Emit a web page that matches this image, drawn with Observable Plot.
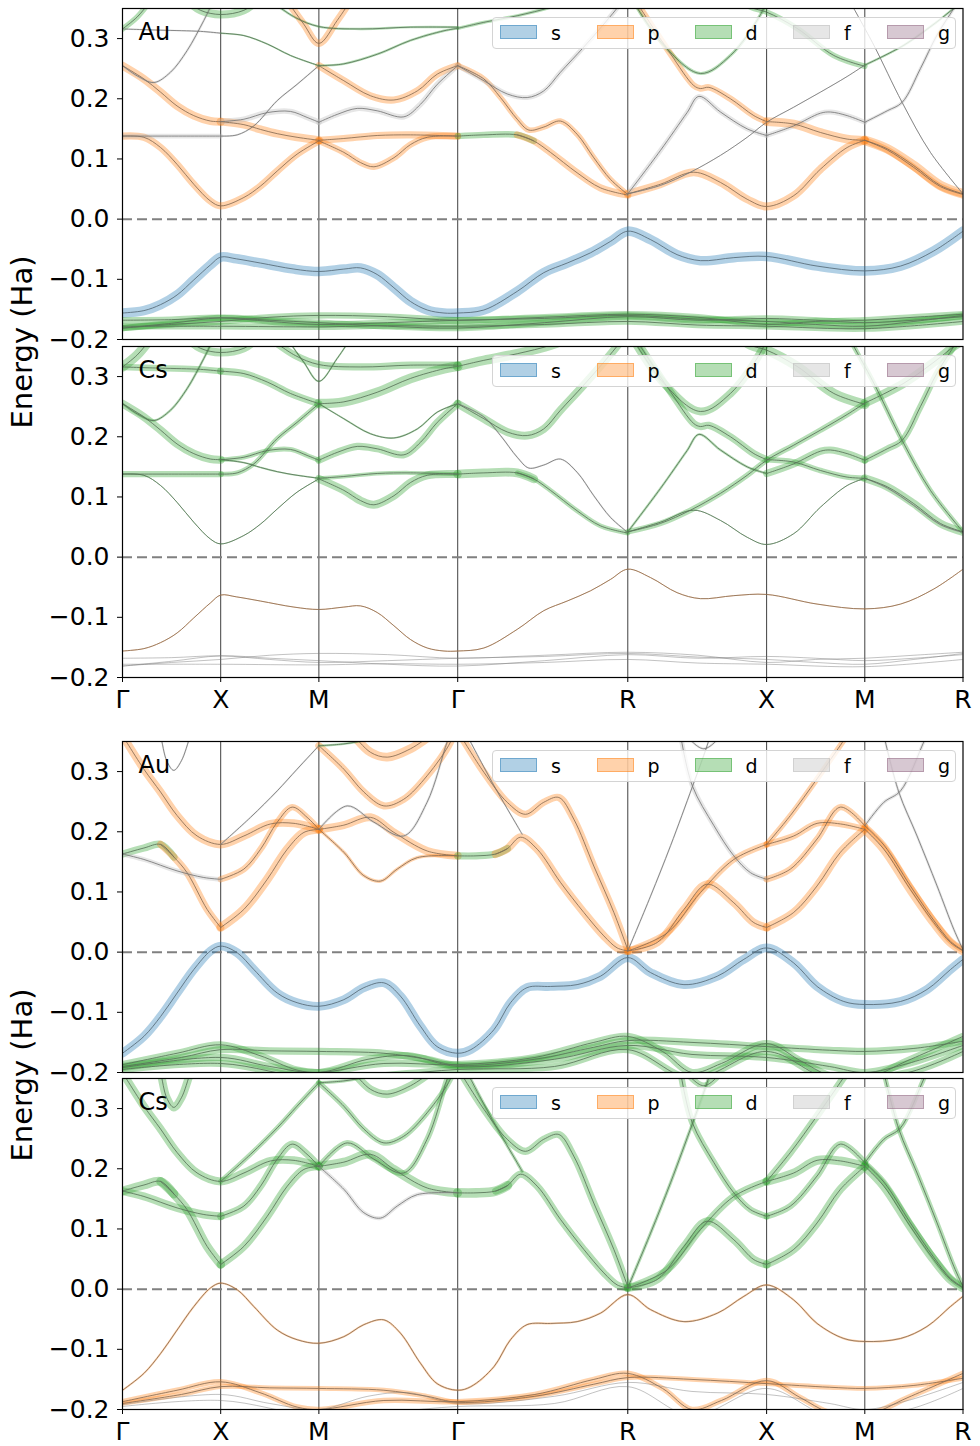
<!DOCTYPE html>
<html><head><meta charset="utf-8">
<script src="https://cdn.jsdelivr.net/npm/d3@7"></script>
<script src="https://cdn.jsdelivr.net/npm/@observablehq/plot@0.6"></script>
<style>
body{margin:0;background:#fff;font-family:"DejaVu Sans",sans-serif;}
#wrap{position:relative;width:980px;height:1446px;overflow:hidden;background:#fff;}
.panel{position:absolute;left:0;}
.ylab{position:absolute;width:300px;text-align:center;font-size:29px;line-height:34px;transform:rotate(-90deg);white-space:nowrap;color:#000;}
.legend{position:absolute;left:492px;width:462px;height:30px;border:1px solid #d4d4d4;border-radius:4px;background:rgba(255,255,255,0.8);}
.entry{position:absolute;top:0;height:30px;}
.patch{position:absolute;top:7px;left:0;width:35px;height:12px;}
.ltxt{position:absolute;left:51px;top:0;font-size:19px;line-height:30px;color:#000;}
</style></head>
<body><div id="wrap"></div>
<script>
// ---------- axis data ----------
const G0=0, X1=0.5, M1=1.0, G1=1.707, R1=2.573, X2=3.28, M2=3.78, R2=4.28;
const kTicks=[G0,X1,M1,G1,R1,X2,M2,R2];
const kLabels=["Γ","X","M","Γ","R","X","M","R"];
const yTicks=[-0.2,-0.1,0,0.1,0.2,0.3];
const yDomain=[-0.2,0.35];
const orbitals=["s","p","d","f","g"];
const orbColors=["#1f77b4","#ff7f0e","#2ca02c","#b8b8b8","#8d627e"];

// ---------- structure A (top figure) ----------
const A_s=[[0,-0.156],[0.109,-0.152],[0.194,-0.142],[0.278,-0.126],[0.363,-0.101],[0.448,-0.076],[0.5,-0.063],[0.58,-0.066],[0.703,-0.073],[0.873,-0.083],[1.0,-0.087],[1.127,-0.083],[1.212,-0.081],[1.297,-0.092],[1.382,-0.114],[1.467,-0.137],[1.552,-0.151],[1.637,-0.156],[1.707,-0.156],[1.84,-0.151],[2.01,-0.12],[2.145,-0.089],[2.264,-0.073],[2.383,-0.056],[2.485,-0.037],[2.573,-0.02],[2.689,-0.034],[2.824,-0.059],[2.943,-0.069],[3.113,-0.064],[3.28,-0.062],[3.537,-0.078],[3.78,-0.086],[3.962,-0.078],[4.131,-0.053],[4.28,-0.02]];
const A_d1=[[0,-0.168],[0.25,-0.167],[0.5,-0.164],[0.75,-0.17],[1.0,-0.175],[1.35,-0.172],[1.707,-0.168],[2.15,-0.165],[2.573,-0.16],[2.93,-0.166],[3.28,-0.17],[3.53,-0.175],[3.78,-0.178],[4.03,-0.17],[4.28,-0.16]];
const A_d2=[[0,-0.181],[0.25,-0.173],[0.5,-0.164],[0.75,-0.168],[1.0,-0.172],[1.35,-0.178],[1.707,-0.181],[2.15,-0.172],[2.573,-0.162],[2.93,-0.168],[3.28,-0.165],[3.53,-0.168],[3.78,-0.172],[4.03,-0.168],[4.28,-0.162]];
const A_d3=[[0,-0.178],[0.5,-0.178],[1.0,-0.179],[1.35,-0.177],[1.707,-0.178],[2.15,-0.175],[2.573,-0.17],[2.93,-0.176],[3.28,-0.178],[3.78,-0.182],[4.28,-0.17]];
const A_d4=[[0,-0.181],[0.25,-0.175],[0.5,-0.17],[0.75,-0.163],[1.0,-0.16],[1.35,-0.162],[1.707,-0.168],[2.15,-0.163],[2.573,-0.158],[2.93,-0.163],[3.28,-0.175],[3.53,-0.17],[3.78,-0.168],[4.03,-0.163],[4.28,-0.158]];
const A_c1a=[[0,0.138],[0.109,0.136],[0.194,0.119],[0.278,0.091],[0.363,0.058],[0.448,0.03],[0.5,0.022],[0.618,0.036],[0.703,0.055],[0.788,0.08],[0.889,0.108],[1.0,0.13]];
const A_c1b=[[1.0,0.13],[1.127,0.111],[1.212,0.094],[1.28,0.087],[1.382,0.102],[1.467,0.124],[1.552,0.136],[1.707,0.138]];
const A_c2a=[[0,0.138],[0.25,0.138],[0.5,0.138]];
const A_c2b=[[0.5,0.138],[0.584,0.14],[0.669,0.155],[0.788,0.197],[0.889,0.224],[1.0,0.255]];
const A_c2c=[[1.0,0.255],[1.127,0.23],[1.263,0.205],[1.382,0.198],[1.501,0.213],[1.603,0.241],[1.707,0.255]];
const A_c3a=[[0,0.255],[0.109,0.233],[0.194,0.211],[0.278,0.188],[0.363,0.172],[0.448,0.163],[0.5,0.162]];
const A_c3b=[[0.5,0.162],[0.618,0.157],[0.703,0.149],[0.788,0.142],[0.889,0.136],[1.0,0.131]];
const A_c3c=[[1.0,0.131],[1.127,0.134],[1.297,0.139],[1.467,0.14],[1.707,0.138]];
const A_c4=[[0,0.255],[0.075,0.238],[0.16,0.227],[0.244,0.244],[0.329,0.28],[0.414,0.33],[0.465,0.363],[0.5,0.38]];
const A_c5a=[[0.5,0.162],[0.618,0.166],[0.737,0.177],[0.855,0.179],[0.94,0.169],[1.0,0.161]];
const A_c5b=[[1.0,0.161],[1.093,0.174],[1.195,0.184],[1.297,0.18],[1.433,0.17],[1.518,0.191],[1.603,0.224],[1.707,0.255]];
const A_c6a=[[0,0.316],[0.194,0.314],[0.397,0.312],[0.5,0.309]];
const A_c6b=[[0.5,0.309],[0.618,0.305],[0.737,0.291],[0.855,0.272],[1.0,0.255]];
const A_c6c=[[1.0,0.255],[1.127,0.258],[1.297,0.274],[1.467,0.297],[1.637,0.313],[1.707,0.317]];
const A_c7=[[0,0.316],[0.075,0.336],[0.143,0.363],[0.2,0.39]];
const A_c8=[[0.754,0.363],[0.88,0.335],[1.0,0.32],[1.212,0.316],[1.467,0.319],[1.707,0.319]];
const A_c9=[[0.838,0.363],[0.923,0.324],[1.0,0.292],[1.093,0.33],[1.161,0.363]];
const A_c10=[[0.329,0.363],[0.397,0.347],[0.5,0.34],[0.618,0.347],[0.686,0.363]];
const A_r1=[[1.707,0.255],[1.84,0.233],[1.925,0.202],[2.01,0.166],[2.069,0.148],[2.145,0.153],[2.23,0.163],[2.315,0.141],[2.4,0.102],[2.485,0.066],[2.573,0.041]];
const A_r2a=[[1.707,0.138],[1.84,0.14],[2.01,0.14],[2.094,0.13]];
const A_r2b=[[2.01,0.14],[2.094,0.13],[2.179,0.111],[2.315,0.077],[2.434,0.052],[2.573,0.04]];
const A_r3=[[1.707,0.255],[1.84,0.23],[1.959,0.208],[2.061,0.202],[2.145,0.213],[2.23,0.244],[2.349,0.286],[2.451,0.324],[2.536,0.358],[2.56,0.37]];
const A_r4=[[1.707,0.317],[1.84,0.327],[2.01,0.338],[2.179,0.352],[2.264,0.363]];
const A_r5=[[2.573,0.042],[2.739,0.058],[2.909,0.078],[3.045,0.061],[3.181,0.033],[3.28,0.021],[3.418,0.039],[3.554,0.083],[3.69,0.119],[3.78,0.131]];
const A_r5b=[[3.78,0.131],[3.894,0.115],[4.029,0.086],[4.165,0.054],[4.28,0.041]];
const A_r6a=[[2.573,0.042],[2.739,0.056],[2.892,0.078],[3.045,0.106],[3.181,0.136],[3.28,0.161],[3.418,0.186],[3.554,0.211],[3.69,0.237],[3.78,0.256]];
const A_r6b=[[3.78,0.256],[3.979,0.289],[4.148,0.328],[4.233,0.35],[4.28,0.36]];
const A_r7a=[[2.573,0.042],[2.739,0.114],[2.875,0.177],[2.935,0.204],[3.045,0.178],[3.181,0.15],[3.28,0.139]];
const A_r7b=[[3.28,0.139],[3.418,0.155],[3.554,0.176],[3.605,0.178],[3.69,0.172],[3.78,0.161]];
const A_r7c=[[3.78,0.161],[3.894,0.18],[3.97,0.194],[4.063,0.25],[4.148,0.306],[4.233,0.35],[4.28,0.375]];
const A_r8a=[[2.638,0.35],[2.79,0.275],[2.909,0.222],[2.943,0.217],[2.986,0.219],[3.096,0.2],[3.215,0.172],[3.28,0.162]];
const A_r8b=[[3.28,0.162],[3.418,0.158],[3.554,0.144],[3.69,0.133],[3.78,0.131]];
const A_r8c=[[3.78,0.131],[3.894,0.117],[4.029,0.089],[4.165,0.056],[4.28,0.042]];
const A_r9=[[2.604,0.36],[2.756,0.289],[2.943,0.242],[3.096,0.272],[3.249,0.34],[3.29,0.37]];
const A_r10=[[3.1,0.375],[3.2,0.352],[3.28,0.344],[3.435,0.317],[3.622,0.272],[3.78,0.254]];
const A_r11=[[3.724,0.35],[3.826,0.289],[3.97,0.194],[4.114,0.111],[4.28,0.042]];

// [points, Au orbital, Au weight, Cs orbital, Cs weight]
const bandsA=[
 [A_s,"s",0.6,"p",0.06],
 [A_d1,"d",0.4,"f",0.03],[A_d2,"d",0.4,"f",0.03],[A_d3,"d",0.4,"f",0.03],[A_d4,"d",0.4,"f",0.03],
 [A_c1a,"p",0.45,"d",0.06],[A_c1b,"p",0.4,"d",0.5],
 [A_c2a,"f",0.3,"d",0.4],[A_c2b,"f",0.1,"d",0.3],[A_c2c,"p",0.45,"d",0.1],
 [A_c3a,"p",0.5,"d",0.5],[A_c3b,"p",0.5,"d",0.1],[A_c3c,"p",0.45,"d",0.25],
 [A_c4,"f",0.15,"d",0.15],
 [A_c5a,"f",0.35,"d",0.3],[A_c5b,"f",0.35,"d",0.45],
 [A_c6a,"f",0.1,"d",0.4],[A_c6b,"d",0.1,"d",0.45],[A_c6c,"d",0.15,"d",0.6],
 [A_c7,"d",0.35,"d",0.6],[A_c8,"d",0.15,"d",0.45],[A_c9,"p",0.45,"d",0.1],[A_c10,"d",0.5,"d",0.5],
 [A_r1,"p",0.35,"f",0.1],[A_r2a,"d",0.4,"d",0.55],[A_r2b,"p",0.45,"d",0.3],
 [A_r3,"f",0.3,"d",0.5],[A_r4,"d",0.2,"d",0.6],
 [A_r5,"p",0.5,"d",0.05],[A_r5b,"p",0.4,"f",0.1],
 [A_r6a,"f",0.06,"d",0.35],[A_r6b,"d",0.15,"d",0.55],
 [A_r7a,"f",0.3,"d",0.15],[A_r7b,"f",0.3,"d",0.45],[A_r7c,"f",0.2,"d",0.4],
 [A_r8a,"p",0.4,"d",0.45],[A_r8b,"p",0.55,"d",0.35],[A_r8c,"p",0.6,"d",0.5],
 [A_r9,"d",0.2,"d",0.5],[A_r10,"d",0.35,"d",0.6],[A_r11,"f",0.06,"d",0.3]
];

// ---------- structure B (bottom figure) ----------
const B_s=[[0,-0.168],[0.109,-0.14],[0.194,-0.107],[0.278,-0.068],[0.363,-0.029],[0.448,0.002],[0.5,0.01],[0.584,-0.001],[0.669,-0.029],[0.788,-0.068],[0.889,-0.084],[1.0,-0.09],[1.127,-0.079],[1.229,-0.059],[1.331,-0.051],[1.415,-0.073],[1.517,-0.123],[1.602,-0.157],[1.707,-0.168],[1.774,-0.162],[1.891,-0.129],[1.976,-0.084],[2.06,-0.059],[2.179,-0.057],[2.315,-0.054],[2.434,-0.04],[2.573,-0.009],[2.689,-0.034],[2.859,-0.054],[3.029,-0.04],[3.164,-0.012],[3.28,0.007],[3.418,-0.018],[3.537,-0.057],[3.673,-0.082],[3.78,-0.087],[3.962,-0.082],[4.097,-0.062],[4.216,-0.029],[4.28,-0.012]];
const B_d1=[[0,-0.187],[0.278,-0.168],[0.5,-0.154],[0.7,-0.172],[0.889,-0.196],[1.0,-0.2],[1.331,-0.185],[1.707,-0.187],[2.1,-0.175],[2.4,-0.15],[2.573,-0.14],[2.75,-0.165],[2.9,-0.2],[3.05,-0.185],[3.28,-0.152],[3.45,-0.18],[3.6,-0.205],[3.78,-0.21],[4.0,-0.18],[4.28,-0.14]];
const B_d2=[[0,-0.19],[0.3,-0.175],[0.5,-0.162],[0.75,-0.164],[1.0,-0.165],[1.331,-0.168],[1.55,-0.178],[1.707,-0.188],[2.1,-0.178],[2.4,-0.158],[2.573,-0.147],[2.9,-0.15],[3.28,-0.157],[3.6,-0.163],[3.78,-0.165],[4.03,-0.16],[4.28,-0.148]];
const B_d3=[[0,-0.192],[0.5,-0.175],[0.75,-0.19],[1.0,-0.2],[1.25,-0.178],[1.45,-0.172],[1.707,-0.19],[2.2,-0.178],[2.573,-0.155],[2.9,-0.17],[3.28,-0.175],[3.6,-0.19],[3.78,-0.2],[4.0,-0.185],[4.28,-0.155]];
const B_d4=[[0,-0.195],[0.5,-0.185],[1.0,-0.21],[1.707,-0.195],[2.2,-0.19],[2.573,-0.162],[2.9,-0.21],[3.28,-0.165],[3.6,-0.21],[4.0,-0.2],[4.28,-0.165]];
const B_c1=[[0,0.36],[0.109,0.304],[0.194,0.266],[0.278,0.227],[0.38,0.193],[0.5,0.179],[0.618,0.193],[0.754,0.213],[0.873,0.214],[1.0,0.204]];
const B_c2=[[0.5,0.179],[0.652,0.224],[0.788,0.268],[0.889,0.304],[1.0,0.343]];
const B_c3=[[0.5,0.041],[0.618,0.071],[0.737,0.121],[0.839,0.171],[0.924,0.199],[1.0,0.204]];
const B_c4=[[0.5,0.121],[0.618,0.138],[0.703,0.171],[0.788,0.216],[0.864,0.241],[0.94,0.224],[1.0,0.204]];
const B_c5a=[[0,0.163],[0.109,0.173],[0.194,0.179],[0.262,0.158]];
const B_c5b=[[0.194,0.179],[0.262,0.158],[0.329,0.132],[0.431,0.071],[0.5,0.041]];
const B_c6=[[0,0.163],[0.109,0.154],[0.278,0.135],[0.414,0.124],[0.5,0.121]];
const B_c7=[[0.17,0.38],[0.193,0.36],[0.225,0.318],[0.261,0.302],[0.3,0.318],[0.346,0.36],[0.37,0.38]];
const B_m1=[[1.0,0.204],[1.127,0.211],[1.263,0.224],[1.382,0.199],[1.552,0.168],[1.707,0.16]];
const B_m2=[[1.0,0.204],[1.144,0.243],[1.28,0.216],[1.432,0.193],[1.551,0.249],[1.653,0.349],[1.68,0.37]];
const B_m3=[[1.0,0.204],[1.127,0.166],[1.229,0.127],[1.314,0.118],[1.399,0.138],[1.501,0.157],[1.707,0.16]];
const B_m4=[[1.0,0.343],[1.127,0.304],[1.229,0.266],[1.331,0.243],[1.432,0.254],[1.551,0.293],[1.67,0.349],[1.69,0.37]];
const B_m5=[[1.178,0.36],[1.263,0.332],[1.348,0.324],[1.467,0.338],[1.568,0.36]];
const B_m6=[[1.0,0.343],[1.127,0.346],[1.229,0.352],[1.35,0.365]];
const B_g1a=[[1.707,0.16],[1.8,0.16],[1.9,0.163],[1.96,0.172]];
const B_g1b=[[1.9,0.163],[1.96,0.172],[2.027,0.191],[2.112,0.171],[2.23,0.116],[2.349,0.066],[2.451,0.027],[2.519,0.007],[2.573,0.002]];
const B_g2=[[1.755,0.36],[1.891,0.277],[2.01,0.21],[2.035,0.196]];
const B_g3=[[1.721,0.36],[1.84,0.299],[1.959,0.249],[2.052,0.229],[2.145,0.249],[2.222,0.257],[2.298,0.221],[2.4,0.143],[2.502,0.066],[2.573,0.004]];
const B_g4=[[2.573,0.002],[2.689,0.093],[2.791,0.177],[2.901,0.274],[2.96,0.327],[2.994,0.36]];
const B_g5a=[[2.842,0.36],[2.901,0.277],[3.012,0.21],[3.113,0.16],[3.198,0.132],[3.28,0.121]];
const B_g5b=[[3.28,0.121],[3.401,0.138],[3.537,0.188],[3.656,0.241],[3.78,0.21]];
const B_g5c=[[3.78,0.21],[3.877,0.249],[3.962,0.268],[4.08,0.349],[4.11,0.37]];
const B_g6=[[3.877,0.36],[3.953,0.266],[4.046,0.193],[4.148,0.11],[4.233,0.038],[4.28,0.004]];
const B_x1=[[2.573,0.002],[2.723,0.016],[2.859,0.071],[2.977,0.113],[3.113,0.082],[3.215,0.049],[3.28,0.041]];
const B_x2=[[2.573,0.002],[2.774,0.032],[2.943,0.099],[3.113,0.154],[3.28,0.179]];
const B_x4=[[2.85,0.375],[2.9,0.35],[2.96,0.338],[3.02,0.35],[3.07,0.375]];
const B_y1=[[3.28,0.179],[3.418,0.193],[3.537,0.214],[3.656,0.213],[3.78,0.204]];
const B_y2=[[3.28,0.179],[3.401,0.227],[3.537,0.288],[3.69,0.36]];
const B_z1=[[3.28,0.041],[3.418,0.066],[3.537,0.11],[3.656,0.166],[3.78,0.204]];
const B_z2=[[3.78,0.204],[3.877,0.171],[4.012,0.104],[4.131,0.049],[4.216,0.016],[4.28,0.002]];
const B_z3=[[3.78,0.21],[3.877,0.178],[4.012,0.11],[4.131,0.053],[4.216,0.018],[4.28,0.003]];

const bandsB=[
 [B_s,"s",0.55,"p",0.12],
 [B_d1,"d",0.45,"p",0.35],[B_d2,"d",0.45,"p",0.3],[B_d3,"d",0.45,"f",0.03],[B_d4,"d",0.45,"f",0.03],
 [B_c1,"p",0.5,"d",0.5],[B_c2,"f",0.1,"d",0.3],[B_c3,"p",0.55,"d",0.5],[B_c4,"p",0.4,"d",0.45],
 [B_c5a,"d",0.45,"d",0.55],[B_c5b,"p",0.45,"d",0.55],[B_c6,"f",0.3,"d",0.5],[B_c7,"f",0.1,"d",0.5],
 [B_m1,"p",0.5,"d",0.55],[B_m2,"f",0.15,"d",0.35],[B_m3,"p",0.2,"f",0.25],[B_m4,"p",0.45,"d",0.35],[B_m5,"p",0.55,"d",0.5],[B_m6,"d",0.15,"d",0.2],
 [B_g1a,"d",0.45,"d",0.6],[B_g1b,"p",0.5,"d",0.45],[B_g2,"f",0.1,"d",0.2],[B_g3,"p",0.45,"d",0.45],[B_g4,"f",0.1,"d",0.2],
 [B_g5a,"f",0.3,"d",0.4],[B_g5b,"p",0.4,"d",0.4],[B_g5c,"f",0.2,"d",0.3],[B_g6,"f",0.15,"d",0.3],
 [B_x1,"p",0.5,"d",0.5],[B_x2,"p",0.4,"d",0.45],[B_x4,"f",0.15,"d",0.4],
 [B_y1,"p",0.4,"d",0.55],[B_y2,"p",0.35,"d",0.45],
 [B_z1,"p",0.5,"d",0.5],[B_z2,"p",0.55,"d",0.55],[B_z3,"p",0.35,"d",0.35]
];

// ---------- drawing ----------
const colorOf = o => orbColors[orbitals.indexOf(o)];
const FAT = 16;
const wrap = document.getElementById("wrap");

function panel(bands, proj, label, top, mt, mb, showX){
  const oi = proj==="Au" ? 1 : 3;
  const marks = [
    Plot.ruleX(kTicks.slice(1,-1), {stroke:"#000", strokeWidth:1, strokeOpacity:0.75}),
    Plot.ruleY([0], {stroke:"#808080", strokeWidth:2, strokeDasharray:"10,5"})
  ];
  for (const b of bands){
    const c = colorOf(b[oi]), w = b[oi+1];
    if (w >= 0.05) marks.push(Plot.line(b[0], {x:d=>d[0], y:d=>d[1], curve:"catmull-rom", stroke:c, strokeOpacity:0.35, strokeWidth:w*FAT, strokeLinejoin:"round", clip:true}));
  }
  for (const b of bands){
    const c = colorOf(b[oi]), w = b[oi+1];
    const tc = d3.interpolateRgb("#666666", c)(0.22);
    marks.push(Plot.line(b[0], {x:d=>d[0], y:d=>d[1], curve:"catmull-rom", stroke:tc, strokeOpacity: w<0.05?0.45:0.85, strokeWidth:1, clip:true}));
  }
  marks.push(Plot.frame({stroke:"#000", strokeWidth:1.2}));
  marks.push(Plot.axisY(yTicks, {tickSize:5, tickPadding:8, fontSize:25, tickFormat:d=>(d<0?"−":"")+Math.abs(d).toFixed(1), label:null}));
  if (showX) marks.push(Plot.axisX(kTicks, {tickSize:5, tickPadding:8, fontSize:25, tickFormat:d=>kLabels[kTicks.indexOf(d)], label:null}));
  marks.push(Plot.text([label], {frameAnchor:"top-left", dx:16, dy:14, fontSize:24, textAnchor:"start", lineAnchor:"top", fill:"#000"}));
  const svg = Plot.plot({
    width:980, height:mt+331+mb, marginLeft:122, marginRight:17.5, marginTop:mt, marginBottom:mb,
    x:{domain:[0,4.28], axis:null}, y:{domain:yDomain, axis:null},
    style:{background:"transparent", color:"#000", fontFamily:"DejaVu Sans", overflow:"visible"},
    marks
  });
  svg.classList.add("panel");
  svg.style.top = top+"px";
  svg.style.position = "absolute";
  wrap.appendChild(svg);
  // legend
  const lg = document.createElement("div");
  lg.className = "legend";
  lg.style.top = (top+mt+9)+"px";
  const offs = [7,103.5,201.5,300,394];
  orbitals.forEach((o,i)=>{
    const e = document.createElement("div"); e.className="entry"; e.style.left=offs[i]+"px";
    const p = document.createElement("div"); p.className="patch";
    const c = d3.color(colorOf(o));
    p.style.background = `rgba(${c.r},${c.g},${c.b},0.35)`;
    p.style.border = `1px solid rgba(${c.r},${c.g},${c.b},0.45)`;
    const t = document.createElement("div"); t.className="ltxt"; t.textContent=o;
    e.appendChild(p); e.appendChild(t); lg.appendChild(e);
  });
  wrap.appendChild(lg);
}

panel(bandsA, "Au", "Au", 0, 8, 4, false);
panel(bandsA, "Cs", "Cs", 343, 3, 42, true);
panel(bandsB, "Au", "Au", 719, 22, 3, false);
panel(bandsB, "Cs", "Cs", 1075, 3, 37, true);

function ylab(cy){
  const d = document.createElement("div"); d.className="ylab"; d.textContent="Energy (Ha)";
  d.style.left = (22-150)+"px"; d.style.top = (cy-17)+"px"; wrap.appendChild(d);
}
ylab(342);
ylab(1075);
</script></body></html>
